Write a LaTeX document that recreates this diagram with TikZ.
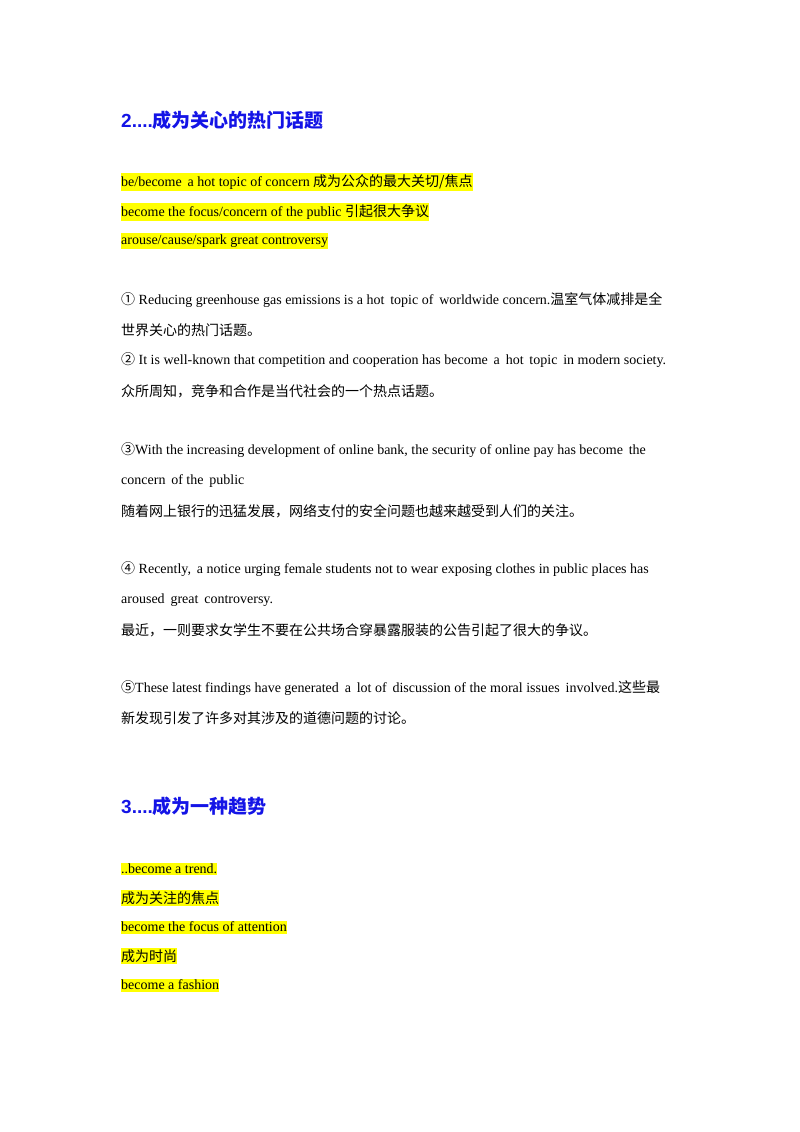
\documentclass[tikz,border=0pt]{standalone}
\usepackage{fontspec}
\setmainfont{Liberation Serif}
\newfontfamily\cjk{Noto Sans CJK SC}
\newfontfamily\headf{Liberation Sans}
\definecolor{hblue}{RGB}{20,20,230}
\definecolor{hyel}{RGB}{255,255,0}
\begin{document}
\begin{tikzpicture}[x=1pt,y=1pt,
  txt/.style={anchor=west,inner sep=0pt,font=\fontsize{14}{16}\selectfont},
  hl/.style={txt,fill=hyel,inner ysep=1.5pt},
  head/.style={anchor=west,inner sep=0pt,font=\headf\bfseries\fontsize{19}{22}\selectfont,text=hblue}]
\useasboundingbox (0,0) rectangle (800,-1132);
\node[head] (h1) at (121,-120) {2....{\cjk 成为关心的热门话题}};
\node[hl] (a1) at (121,-182) {be/become\, a hot topic of concern {\cjk 成为公众的最大关切/焦点}};
\node[hl] (a2) at (121,-212) {become the focus/concern of the public {\cjk 引起很大争议}};
\node[hl] (a3) at (121,-241) {arouse/cause/spark great controversy};
\node[txt] (e1) at (121,-300) {{\cjk ①} Reducing greenhouse gas emissions is a hot\, topic of\, worldwide concern.{\cjk 温室气体减排是全}};
\node[txt] (e1b) at (121,-330) {\cjk 世界关心的热门话题。};
\node[txt] (e2) at (121,-360) {{\cjk ②} It is well-known that competition and cooperation has become\, a\, hot\, topic\, in modern society.};
\node[txt] (e2b) at (121,-391) {\cjk 众所周知，竞争和合作是当代社会的一个热点话题。};
\node[txt] (e3) at (121,-450) {{\cjk ③}With the increasing development of online bank, the security of online pay has become\, the};
\node[txt] (e3b) at (121,-481) {concern\, of the\, public};
\node[txt] (e3c) at (121,-511) {\cjk 随着网上银行的迅猛发展，网络支付的安全问题也越来越受到人们的关注。};
\node[txt] (e4) at (121,-569) {{\cjk ④} Recently,\, a notice urging female students not to wear exposing clothes in public places has};
\node[txt] (e4b) at (121,-600) {aroused\, great\, controversy.};
\node[txt] (e4c) at (121,-630) {\cjk 最近，一则要求女学生不要在公共场合穿暴露服装的公告引起了很大的争议。};
\node[txt] (e5) at (121,-688) {{\cjk ⑤}These latest findings have generated\, a\, lot of\, discussion of the moral issues\, involved.{\cjk 这些最}};
\node[txt] (e5b) at (121,-718) {\cjk 新发现引发了许多对其涉及的道德问题的讨论。};
\node[head] (h2) at (121,-806) {3....{\cjk 成为一种趋势}};
\node[hl] (b1) at (121,-869) {..become a trend.};
\node[hl] (b2) at (121,-898) {\cjk 成为关注的焦点};
\node[hl] (b3) at (121,-927) {become the focus of attention};
\node[hl] (b4) at (121,-956) {\cjk 成为时尚};
\node[hl] (b5) at (121,-985) {become a fashion};
\end{tikzpicture}
\end{document}
